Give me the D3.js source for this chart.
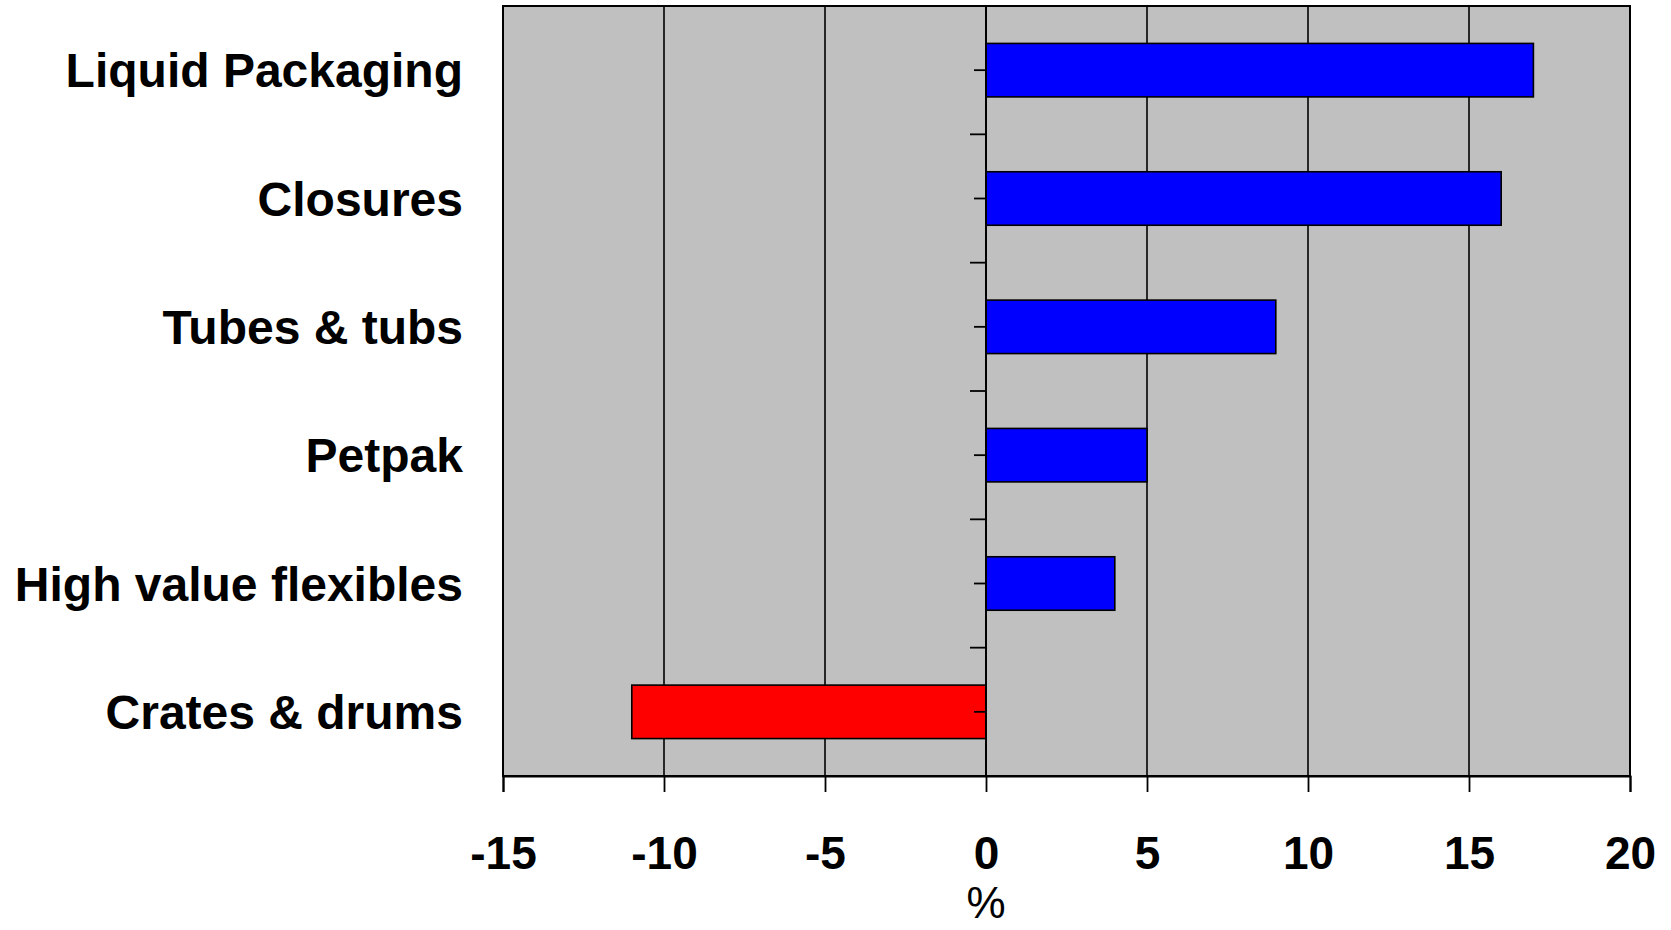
<!DOCTYPE html>
<html>
<head>
<meta charset="utf-8">
<script src="https://cdn.jsdelivr.net/npm/d3@7"></script>
<style>
  html, body { margin: 0; padding: 0; background: #fff; }
  svg { display: block; }
</style>
</head>
<body>
<svg id="chart" width="1671" height="930"></svg>
<script>
const categories = ["Liquid Packaging", "Closures", "Tubes & tubs", "Petpak", "High value flexibles", "Crates & drums"];
const values = [17, 16, 9, 5, 4, -11];
const xTicks = [-15, -10, -5, 0, 5, 10, 15, 20];
const xTitle = "%";

(function () {
const svg = d3.select("#chart");
const pLeft = 503, pRight = 1630, pTop = 6, pBottom = 776;
const font = "'Liberation Sans', Arial, sans-serif";

const x = d3.scaleLinear().domain([-15, 20]).range([pLeft, pRight]);
const y = d3.scaleBand().domain(categories).range([pTop, pBottom]).paddingInner(1.4 / 2.4).paddingOuter(0.7 / 2.4);
const band = d3.scaleBand().domain(categories).range([pTop, pBottom]);

// plot background
svg.append("rect").attr("x", pLeft).attr("y", pTop).attr("width", pRight - pLeft).attr("height", pBottom - pTop)
  .attr("fill", "#C0C0C0");

// vertical gridlines
svg.append("g").selectAll("line").data(xTicks.filter(t => t !== -15 && t !== 20 && t !== 0)).join("line")
  .attr("x1", d => x(d)).attr("x2", d => x(d)).attr("y1", pTop).attr("y2", pBottom)
  .attr("stroke", "#000").attr("stroke-width", 1.6);

// bars
svg.append("g").selectAll("rect").data(categories).join("rect")
  .attr("x", (d, i) => x(Math.min(0, values[i])))
  .attr("width", (d, i) => Math.abs(x(values[i]) - x(0)))
  .attr("y", d => y(d))
  .attr("height", y.bandwidth())
  .attr("fill", (d, i) => values[i] < 0 ? "#FF0000" : "#0000FF")
  .attr("stroke", "#000").attr("stroke-width", 1.6);

// plot border
svg.append("rect").attr("x", pLeft).attr("y", pTop).attr("width", pRight - pLeft).attr("height", pBottom - pTop)
  .attr("fill", "none").attr("stroke", "#000").attr("stroke-width", 2);

// bottom axis
const xAxis = d3.axisBottom(x).tickValues(xTicks).tickSize(16).tickPadding(40).tickFormat(d => String(d));
const gx = svg.append("g").attr("transform", `translate(0,${pBottom})`).call(xAxis);
gx.select(".domain").attr("stroke-width", 2);
gx.selectAll(".tick line").attr("stroke-width", 1.8);
gx.selectAll(".tick text").attr("font-family", font).attr("font-weight", "bold").attr("font-size", 46)
  .attr("fill", "#000").attr("dy", "0.72em").attr("y", 60);

// vertical axis at x=0
svg.append("line").attr("x1", x(0)).attr("x2", x(0)).attr("y1", pTop).attr("y2", pBottom)
  .attr("stroke", "#000").attr("stroke-width", 2);
// boundary ticks
const bounds = categories.slice(1).map(c => band(c));
svg.append("g").selectAll("line").data(bounds).join("line")
  .attr("x1", x(0) - 16).attr("x2", x(0)).attr("y1", d => d).attr("y2", d => d)
  .attr("stroke", "#000").attr("stroke-width", 1.8);
// center ticks
svg.append("g").selectAll("line").data(categories).join("line")
  .attr("x1", x(0) - 12).attr("x2", x(0))
  .attr("y1", d => band(d) + band.bandwidth() / 2).attr("y2", d => band(d) + band.bandwidth() / 2)
  .attr("stroke", "#000").attr("stroke-width", 1.8);

// category labels
svg.append("g").selectAll("text").data(categories).join("text")
  .attr("x", 463)
  .attr("y", d => band(d) + band.bandwidth() / 2 + 17)
  .attr("text-anchor", "end")
  .attr("font-family", font).attr("font-weight", "bold").attr("font-size", 48)
  .attr("fill", "#000")
  .text(d => d);

// x title
svg.append("text").attr("x", x(0)).attr("y", 918).attr("text-anchor", "middle")
  .attr("font-family", font).attr("font-size", 44).attr("fill", "#000").text(xTitle);
})();
</script>
</body>
</html>
